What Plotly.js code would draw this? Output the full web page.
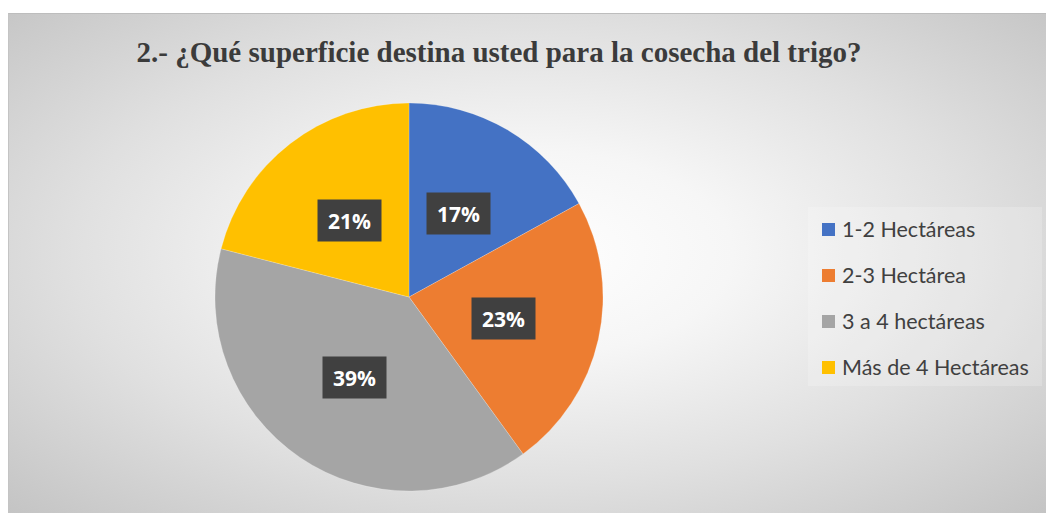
<!DOCTYPE html>
<html>
<head>
<meta charset="utf-8">
<script src="https://cdn.plot.ly/plotly-3.0.1.min.js"></script>
<style>
  html, body { margin: 0; padding: 0; background: #ffffff; }
  #wrap { position: relative; width: 1046px; height: 513px; background: #ffffff; overflow: hidden; }
  #bg { position: absolute; left: 8px; top: 13px; right: 0; bottom: 0;
        background: radial-gradient(ellipse farthest-corner at 50% 48%, #ffffff 0%, #f6f6f6 28%, #e0e0e0 62%, #c4c4c4 100%);
        border-top: 1px solid #bdbdbd; border-left: 1px solid #c4c4c4; }
  #chart { position: absolute; left: 0; top: 0; width: 1046px; height: 513px; }
</style>
</head>
<body>
<div id="wrap">
  <div id="bg"></div>
  <div id="chart"></div>
</div>
<script>
// ---- data ----
const titleText = "2.- ¿Qué superficie destina usted para la cosecha del trigo?";
const categories = ["1-2 Hectáreas", "2-3 Hectárea", "3 a 4 hectáreas", "Más de 4 Hectáreas"];
const values = [17, 23, 39, 21];
const colors = ["#4472C4", "#ED7D31", "#A5A5A5", "#FFC000"];

// ---- layout geometry (pixels) ----
const W = 1046, H = 513;
const cx = 409, cy = 297, R = 194;

const total = values.reduce((a, b) => a + b, 0);

const pie = {
  type: "pie",
  labels: categories,
  values: values,
  sort: false,
  direction: "clockwise",
  rotation: 0,
  marker: { colors: colors, line: { color: "rgba(255,255,255,0.4)", width: 0.5 } },
  textinfo: "none",
  hoverinfo: "none",
  showlegend: false,
  domain: { x: [(cx - R) / W, (cx + R) / W], y: [(H - cy - R) / H, (H - cy + R) / H] }
};

const annotations = [];
const shapes = [];

// percentage label boxes, placed at half radius along each slice's mid angle
let cum = 0;
values.forEach((v, i) => {
  const mid = (cum + v / 2) / total * 2 * Math.PI;
  cum += v;
  const px = cx + 0.5 * R * Math.sin(mid);
  const py = cy - 0.5 * R * Math.cos(mid);
  annotations.push({
    xref: "paper", yref: "paper",
    x: px / W, y: 1 - py / H,
    xanchor: "center", yanchor: "middle",
    text: Math.round(v / total * 100) + "%",
    showarrow: false,
    font: { family: "Open Sans, sans-serif", size: 21, color: "#ffffff", weight: "bold" },
    bgcolor: "#404040",
    borderpad: 6,
    width: 51, height: 29
  });
});

// legend panel
shapes.push({
  type: "rect", xref: "paper", yref: "paper",
  x0: 808 / W, x1: 1042 / W, y0: 1 - 386 / H, y1: 1 - 207 / H,
  fillcolor: "rgba(255,255,255,0.2)", line: { width: 0 }, layer: "below"
});

// legend items
categories.forEach((c, i) => {
  const yc = 229 + i * 46;
  shapes.push({
    type: "rect", xref: "paper", yref: "paper",
    x0: 822 / W, x1: 835 / W, y0: 1 - (yc + 7) / H, y1: 1 - (yc - 6) / H,
    fillcolor: colors[i], line: { width: 0 }
  });
  annotations.push({
    xref: "paper", yref: "paper",
    x: 840 / W, y: 1 - yc / H,
    xanchor: "left", yanchor: "middle",
    text: c, showarrow: false,
    font: { family: "Lato, sans-serif", size: 21.5, color: "#404040" }
  });
});

const layout = {
  width: W, height: H,
  margin: { l: 0, r: 0, t: 0, b: 0 },
  paper_bgcolor: "rgba(0,0,0,0)",
  plot_bgcolor: "rgba(0,0,0,0)",
  title: {
    text: "<b>" + titleText + "</b>",
    x: 499 / W, xanchor: "center",
    y: 1 - 52 / H, yanchor: "middle",
    font: { family: "Liberation Serif, Times New Roman, serif", size: 29, color: "#3b3b3b" }
  },
  showlegend: false,
  annotations: annotations,
  shapes: shapes
};

Plotly.newPlot("chart", [pie], layout, { displayModeBar: false, staticPlot: true });
</script>
</body>
</html>
